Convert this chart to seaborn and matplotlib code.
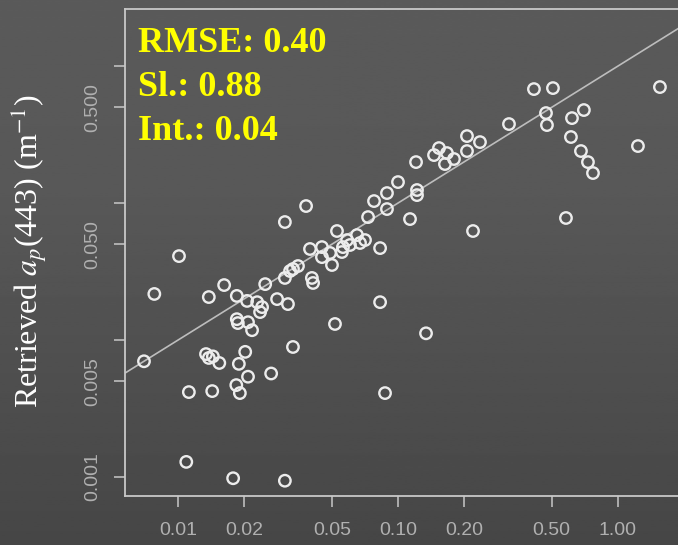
import numpy as np
import pandas as pd
import matplotlib
matplotlib.use('Agg')
import matplotlib.pyplot as plt
import seaborn as sns

# in situ vs retrieved a_p(443)
insitu = [0.0070, 0.0078, 0.0101, 0.0109, 0.0112, 0.0143, 0.0134, 0.0144, 0.0138, 0.0154,
          0.0138, 0.0162, 0.0185, 0.0184, 0.0191, 0.0202, 0.0189, 0.0208, 0.0265, 0.0178,
          0.0306, 0.0185, 0.0187, 0.0208, 0.0217, 0.0206, 0.0229, 0.0241, 0.0249, 0.0282,
          0.0316, 0.0306, 0.0333, 0.0406, 0.0411, 0.0333, 0.0323, 0.0351, 0.0306, 0.0382,
          0.0398, 0.0451, 0.0491, 0.0556, 0.0605, 0.0651, 0.0708, 0.0829, 0.0501, 0.0451,
          0.0528, 0.0587, 0.0829, 0.0517, 0.1341, 0.0873, 0.0731, 0.0778, 0.0891, 0.0891,
          0.1134, 0.1220, 0.1220, 0.1000, 0.1208, 0.1458, 0.1536, 0.1670, 0.1797, 0.1635,
          0.2059, 0.2359, 0.2059, 0.2193, 0.3196, 0.4150, 0.5064, 0.4708, 0.4756, 0.6180,
          0.7000, 0.6113, 0.6789, 0.7305, 0.7700, 1.2330, 1.5520, 0.5803, 0.0672, 0.0236,
          0.0562]
retrieved = [0.0070, 0.0217, 0.0410, 0.00129, 0.00417, 0.00424, 0.0079, 0.0076, 0.0074, 0.0068,
             0.0206, 0.0252, 0.0210, 0.00469, 0.00410, 0.0082, 0.0067, 0.0054, 0.0057, 0.00098,
             0.00094, 0.0142, 0.0133, 0.0135, 0.0118, 0.0193, 0.0189, 0.0174, 0.0256, 0.0199,
             0.0183, 0.0284, 0.0330, 0.0284, 0.0261, 0.0089, 0.0319, 0.0347, 0.0727, 0.0951,
             0.0462, 0.0477, 0.0432, 0.0439, 0.0494, 0.0584, 0.0537, 0.0469, 0.0353, 0.0403,
             0.0625, 0.0537, 0.0189, 0.0131, 0.0112, 0.00410, 0.0790, 0.1034, 0.1183, 0.0904,
             0.0764, 0.1245, 0.1143, 0.1423, 0.1991, 0.2240, 0.2520, 0.2317, 0.2096, 0.1926,
             0.3083, 0.2786, 0.2397, 0.0625, 0.3773, 0.6792, 0.6906, 0.4539, 0.3709, 0.4170,
             0.4775, 0.3034, 0.2397, 0.1991, 0.1656, 0.2607, 0.7027, 0.0778, 0.0511, 0.0160,
             0.0477]

stats_labels = ['RMSE: 0.40', 'Sl.: 0.88', 'Int.: 0.04']
one_to_one = [0.01, 1.0]
x_ticks = [0.01, 0.02, 0.05, 0.10, 0.20, 0.50, 1.00]
x_tick_labels = ['0.01', '0.02', '0.05', '0.10', '0.20', '0.50', '1.00']
y_ticks = [0.001, 0.005, 0.050, 0.500]
y_tick_labels = ['0.001', '0.005', '0.050', '0.500']
y_minor_ticks = [0.01, 0.1, 1.0]

sns.set_theme(style='ticks')
plt.rcParams['font.family'] = ['Liberation Sans', 'DejaVu Sans']
plt.rcParams['mathtext.fontset'] = 'stix'

fig = plt.figure(figsize=(6.78, 5.45), dpi=100)

# dark grey backdrop, a bit lighter at the top
bg = fig.add_axes([0, 0, 1, 1], zorder=-2)
rows = np.linspace(0, 1, 300)
shade = np.interp(rows, [0, 0.35, 1], [0.353, 0.345, 0.275])
bg.imshow(shade[:, None], aspect='auto', cmap='gray', vmin=0, vmax=1,
          extent=[0, 1, 0, 1])
bg.axis('off')

ax = fig.add_axes([0.1844, 0.0899, 0.848, 0.8936])
ax.set_facecolor('none')
ax.set_xscale('log')
ax.set_yscale('log')

df = pd.DataFrame({'insitu': insitu, 'retrieved': retrieved})
ax.axline((one_to_one[0], one_to_one[0]), (one_to_one[1], one_to_one[1]),
          color='#bdbdbd', lw=1.2, zorder=2)
sns.scatterplot(data=df, x='insitu', y='retrieved', ax=ax, s=68,
                facecolors='none', edgecolor='#ececec', linewidth=1.7, zorder=3)

ax.set_xlim(0.00574, 2.36)
ax.set_ylim(7.27e-4, 2.61)
ax.set_xlabel('')
ax.set_ylabel('')

ax.set_xticks(x_ticks)
ax.set_xticklabels(x_tick_labels)
ax.set_xticks([], minor=True)
ax.set_yticks(y_ticks)
ax.set_yticklabels(y_tick_labels, rotation=90, va='center')
ax.set_yticks(y_minor_ticks, minor=True)
ax.set_yticklabels([], minor=True)

ax.tick_params(which='both', direction='out', length=8, width=1.1,
               color='#c8c8c8', labelcolor='#b0b0b0', labelsize=14)
ax.tick_params(axis='x', pad=11)
ax.tick_params(axis='y', pad=9)

for side in ['left', 'bottom', 'top', 'right']:
    ax.spines[side].set_color('#c8c8c8')
    ax.spines[side].set_linewidth(1.3)

fig.text(0.043, 0.539, r'Retrieved $a_p$(443) (m$^{-1}$)', rotation=90,
         family='Liberation Serif', size=23, color='white',
         ha='center', va='center')

for i, s in enumerate(stats_labels):
    fig.text(0.2035, 0.9046 - i * 0.0808, s, color='#ffff00', weight='bold',
             family='Liberation Serif', size=26, va='baseline')

fig.savefig('out.png', dpi=100)
